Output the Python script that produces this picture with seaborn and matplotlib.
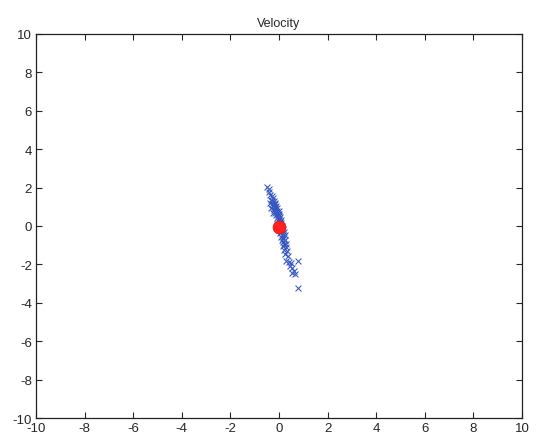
import matplotlib
matplotlib.use("Agg")
import matplotlib.pyplot as plt
import seaborn as sns
import pandas as pd

vx = [-0.48, -0.42, -0.40, -0.36, -0.30, -0.34, -0.28, -0.22, -0.30, -0.25,
      -0.18, -0.12, -0.22, -0.15, -0.08, -0.20, -0.10, -0.02, -0.15, -0.05,
      0.02, -0.12, -0.02, 0.05, -0.08, 0.02, 0.08, -0.05, 0.05, 0.10,
      -0.10, 0.00, 0.12, -0.05, 0.05, 0.15, 0.00, 0.10, 0.20, 0.05,
      0.15, 0.25, 0.08, 0.18, 0.12, 0.25, 0.15, 0.22, 0.30, 0.18,
      0.28, 0.20, 0.32, 0.25, 0.38, 0.30, 0.42, 0.50, 0.45, 0.55,
      0.60, 0.52, 0.65, 0.78, 0.80, -0.38, -0.26, -0.32, -0.18, -0.24]
vy = [2.02, 1.92, 1.75, 1.60, 1.55, 1.38, 1.30, 1.28, 1.15, 1.10,
      1.12, 1.05, 0.98, 0.95, 0.92, 0.85, 0.80, 0.78, 0.70, 0.65,
      0.60, 0.55, 0.50, 0.48, 0.40, 0.35, 0.30, 0.25, 0.20, 0.15,
      0.10, 0.05, 0.02, -0.05, -0.12, -0.15, -0.22, -0.28, -0.30, -0.38,
      -0.45, -0.48, -0.55, -0.62, -0.72, -0.75, -0.85, -0.92, -0.95, -1.05,
      -1.10, -1.25, -1.30, -1.45, -1.55, -1.80, -1.85, -1.95, -2.10, -2.20,
      -2.35, -2.45, -2.50, -1.80, -3.22, 1.20, 1.45, 0.95, 1.20, 0.70]
mean_x = [0.0]
mean_y = [-0.05]
ticks = [-10, -8, -6, -4, -2, 0, 2, 4, 6, 8, 10]

sns.set_style("white")
plt.rcParams['font.family'] = ['Liberation Sans', 'DejaVu Sans']
plt.rcParams['axes.unicode_minus'] = False

fig = plt.figure(figsize=(5.4, 4.39), dpi=100)
ax = fig.add_axes([36/540, 20/439, 486/540, 384/439])

df = pd.DataFrame({"vx": vx, "vy": vy})
sns.scatterplot(data=df, x="vx", y="vy", marker="x", color="#3555c0",
                s=18, linewidth=0.75, ax=ax)
dm = pd.DataFrame({"x": mean_x, "y": mean_y})
sns.scatterplot(data=dm, x="x", y="y", color="#ff2020", s=85,
                edgecolor="#e01818", linewidth=0.6, ax=ax, zorder=5)

ax.set_xlim(-10, 10)
ax.set_ylim(-10, 10)
ax.set_xticks(ticks)
ax.set_yticks(ticks)
ax.set_xticklabels([str(t) for t in ticks])
ax.set_yticklabels([str(t) for t in ticks])
ax.set_xlabel("")
ax.set_ylabel("")
ax.set_title("Velocity", fontsize=9, pad=6)
ax.tick_params(direction="in", length=4, width=0.8, labelsize=9.5,
               top=True, right=True, bottom=True, left=True, pad=3)
for s in ax.spines.values():
    s.set_color("#222222")
    s.set_linewidth(0.9)

fig.savefig("out.png", dpi=100, facecolor="white")
